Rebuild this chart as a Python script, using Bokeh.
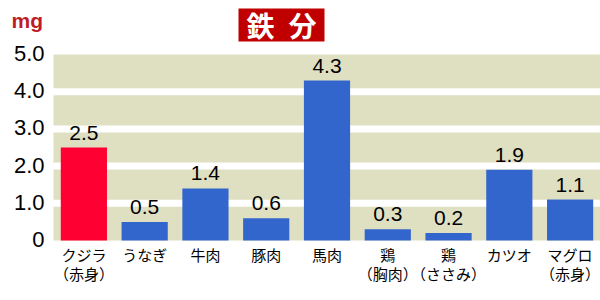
from bokeh.plotting import figure
from bokeh.models import Label, Range1d, ColumnDataSource, BoxAnnotation, Span
from bokeh.core.properties import value
from bokeh.embed import file_html
from bokeh.resources import INLINE

categories = ["クジラ\n（赤身）", "うなぎ", "牛肉", "豚肉", "馬肉",
              "鶏\n（胸肉）", "鶏\n（ささみ）", "カツオ", "マグロ\n（赤身）"]
values = [2.5, 0.5, 1.4, 0.6, 4.3, 0.3, 0.2, 1.9, 1.1]
value_labels = ["2.5", "0.5", "1.4", "0.6", "4.3", "0.3", "0.2", "1.9", "1.1"]
bar_colors = ["#ff0033"] + ["#3366cc"] * 8
y_ticks = [0, 1, 2, 3, 4, 5]
y_tick_labels = ["0", "1.0", "2.0", "3.0", "4.0", "5.0"]
title_text = "鉄\u2002分"
unit_text = "mg"

W, H = 600, 300
frame_left_px, frame_bottom_px, frame_top_px = 53, 240, 54   # plotting area inside canvas
n = len(categories)
cat_px = (W - frame_left_px) / n
unit_px = (frame_bottom_px - frame_top_px) / (y_ticks[-1] - y_ticks[0])

xpos = list(range(n))
x_start = -0.5 - frame_left_px / cat_px
x_end = n - 0.5
y_start = -(H - frame_bottom_px) / unit_px
y_end = frame_bottom_px / unit_px

src = ColumnDataSource(dict(x=xpos, cat=categories, val=values, lab=value_labels, col=bar_colors))

p = figure(width=W, height=H, output_backend="svg", toolbar_location=None,
           x_range=Range1d(x_start, x_end), y_range=Range1d(y_start, y_end),
           x_axis_location=None, y_axis_location=None,
           min_border=0, min_border_left=0, min_border_right=0,
           min_border_top=0, min_border_bottom=0)
p.background_fill_color = "white"
p.border_fill_color = "white"
p.outline_line_color = None
p.grid.visible = False

# beige plot band and white grid stripes
p.add_layout(BoxAnnotation(left=xpos[0] - 0.5, bottom=y_ticks[0], top=y_ticks[-1],
                           fill_color="#dfdfc2", fill_alpha=1, line_color=None, level="underlay"))
for t in y_ticks[1:-1]:
    p.add_layout(Span(location=t, dimension="width", line_color="white", line_width=7,
                      level="underlay"))

p.vbar(x="x", top="val", bottom=0, width=0.76, fill_color="col", line_color=None, source=src)
p.text(x="x", y="val", text="lab", source=src, text_align="center", text_baseline="bottom",
       y_offset=-8, text_font=value("Liberation Sans"), text_font_size="21px", text_color="black")

# category labels
p.text(x="x", y=0, text="cat", source=src, text_align="center", text_baseline="top",
       y_offset=3, text_font=value("Noto Sans CJK JP"), text_font_size="15px",
       text_line_height=0.92, text_color="black")

# value axis labels
p.text(x=[x_start] * len(y_ticks), y=y_ticks, text=y_tick_labels, x_offset=44, y_offset=-1,
       text_align="right", text_baseline="middle", text_font=value("Liberation Sans"),
       text_font_size="22px", text_color="black")

# title box and unit (screen units: from the frame's bottom-left corner)
p.add_layout(BoxAnnotation(left=238, right=324, bottom=H - 41, top=H - 8,
                           left_units="screen", right_units="screen",
                           bottom_units="screen", top_units="screen",
                           fill_color="#c00000", fill_alpha=1, line_color=None))
p.add_layout(Label(x=281, y=H - 24.5, x_units="screen", y_units="screen", text=title_text,
                   text_align="center", text_baseline="middle",
                   text_font="Noto Sans CJK JP", text_font_size="28px", text_font_style="bold",
                   text_color="white"))
p.add_layout(Label(x=11, y=H - 20, x_units="screen", y_units="screen", text=unit_text,
                   text_baseline="middle",
                   text_font="Liberation Sans", text_font_size="21px", text_font_style="bold",
                   text_color="#c01c28"))

open("out.html", "w").write(file_html(p, INLINE))
